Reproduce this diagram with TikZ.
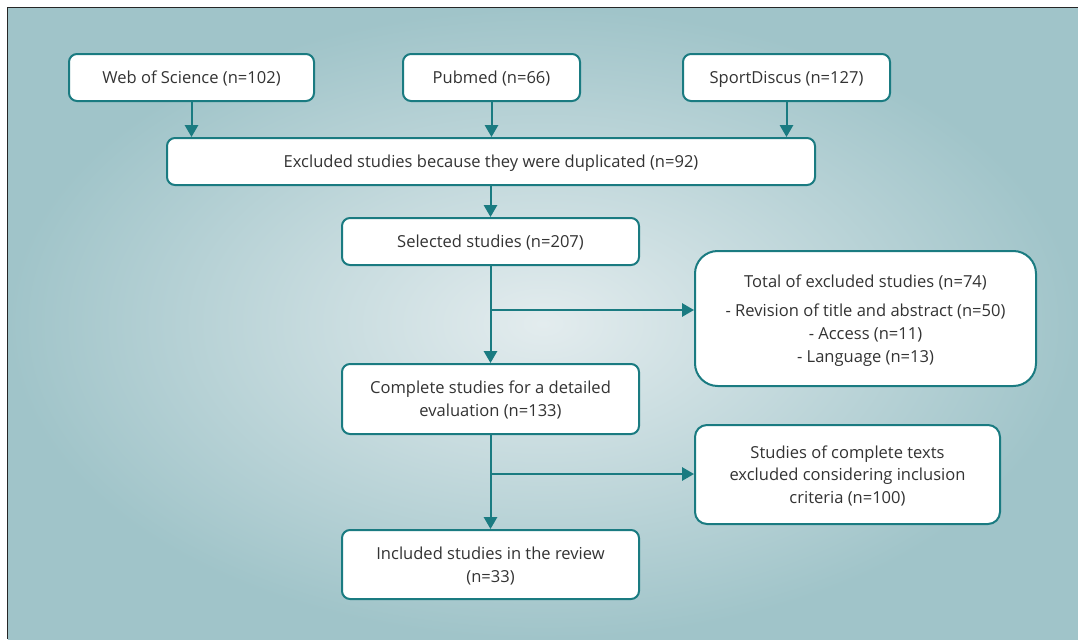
\documentclass[tikz,border=0pt]{standalone}
\usepackage{fontspec}
\setmainfont{Open Sans}
\usepackage{tikz}
\usetikzlibrary{positioning, shapes, arrows.meta, calc}

\definecolor{tealline}{HTML}{1A7B81}
\definecolor{txtgray}{HTML}{333333}
\definecolor{bginner}{HTML}{E3ECEE}
\definecolor{bgouter}{HTML}{A0C4C9}

\begin{document}
\begin{tikzpicture}[x=0.75pt, y=-0.75pt,
    box/.style={rectangle, draw=tealline, line width=1.5pt, fill=white, rounded corners=6pt,
                text=txtgray, align=center, font=\fontsize{12.4}{17}\selectfont, inner sep=0pt,
                text depth=0pt},
    flow/.style={draw=tealline, line width=1.5pt, -{Triangle[width=10pt, length=9pt]}},
    link/.style={draw=tealline, line width=1.5pt}]
                  % Background
                  \useasboundingbox (0,0) rectangle (1078,639);
                  \shade[inner color=bginner, outer color=bgouter] (8,8) rectangle (1078,639);
                  \draw[line width=0.9pt, black!85] (7.5,639) -- (7.5,7.5) -- (1078,7.5);

                  % Nodes
                  \foreach \name/\cx/\w/\txt in {wos/191.5/245/Web of Science (n=102),
                                                 pubmed/491.5/177/Pubmed (n=66),
                                                 sport/786.5/207/SportDiscus (n=127)}
                  \node[box, minimum width=\w*0.75pt, minimum height=35.25pt] (\name) at (\cx,77.5) {\txt};
                  \node[box, minimum width=486pt, minimum height=35.25pt] (dup) at (491,161.5)
                       {Excluded studies because they were duplicated (n=92)};
                  \node[box, minimum width=222.75pt, minimum height=35.25pt] (selected) at (490.5,241.5)
                       {Selected studies (n=207)};
                  \node[box, minimum width=255.75pt, minimum height=101.25pt, rounded corners=17pt] (excl) at (865.5,318.5)
                       {Total of excluded studies (n=74)\\[5pt]
                        - Revision of title and abstract (n=50)\\
                        - Access (n=11)\\
                        - Language (n=13)};
                  \node[box, minimum width=222.75pt, minimum height=52.5pt] (complete) at (490.5,399)
                       {Complete studies for a detailed\\evaluation (n=133)};
                  \node[box, minimum width=228.75pt, minimum height=74.25pt, rounded corners=9pt] (textexcl) at (847.5,474.5)
                       {Studies of complete texts\\excluded considering inclusion\\criteria (n=100)};
                  \node[box, minimum width=222.75pt, minimum height=51.75pt] (included) at (490.5,564.5)
                       {Included studies in the review\\(n=33)};

                  \coordinate (split1) at (490.5,310);
                  \coordinate (split2) at (490.5,474);

                  % Arrows
                  \foreach \src in {wos,pubmed,sport}
                  \draw[flow] (\src.south) -- (\src.south |- dup.north);
                  \draw[flow] (dup.south -| selected.north) -- (selected.north);
                  \draw[flow] (selected.south) -- (complete.north);
                  \draw[flow] (split1) -- (split1 -| excl.west);
                  \draw[flow] (complete.south) -- (included.north);
                  \draw[flow] (split2) -- (split2 -| textexcl.west);
              \end{tikzpicture}
\end{document}
